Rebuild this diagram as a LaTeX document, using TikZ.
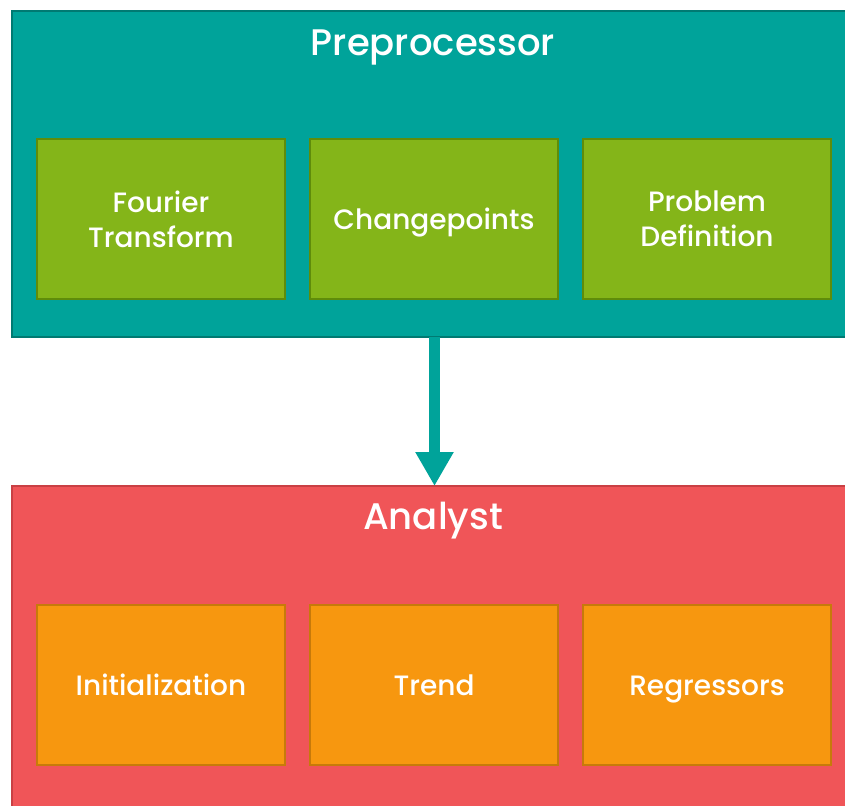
\documentclass[tikz,border=0pt]{standalone}
\usepackage{fontspec}
\setmainfont{Poppins}[UprightFont={* Medium}]
\usetikzlibrary{arrows.meta}
\definecolor{tealfill}{HTML}{00A39A}
\definecolor{tealline}{HTML}{007A72}
\definecolor{greenfill}{HTML}{84B519}
\definecolor{greenline}{HTML}{5F8C0A}
\definecolor{redfill}{HTML}{F05558}
\definecolor{redline}{HTML}{C94044}
\definecolor{orangefill}{HTML}{F7970F}
\definecolor{orangeline}{HTML}{C77A0A}
\tikzset{
  panel/.style={draw=#1line, fill=#1fill, line width=2pt, inner sep=0pt, anchor=north west},
  stage/.style={draw=#1line, fill=#1fill, line width=2pt, minimum width=248pt, minimum height=160pt,
    inner sep=0pt, anchor=north west, text=white, font=\fontsize{28}{35}\selectfont, align=center},
  oneline/.style={text height=22pt, text depth=2pt},
  paneltitle/.style={text=white, font=\fontsize{37}{44}\selectfont, text height=27pt, text depth=8pt},
}
\begin{document}
\begin{tikzpicture}[x=1pt,y=-1pt]
\useasboundingbox (0,0) rectangle (845,805);
% preprocessor panel
\node[panel=teal, minimum width=850pt, minimum height=326pt] (pre) at (11,10) {};
\node[paneltitle] (pretitle) at (433,46) {Preprocessor};
\node[stage=green] (fourier) at (36,138) {Fourier\\Transform};
\node[stage=green, oneline] (change) at (309,138) {Changepoints};
\node[stage=green] (problem) at (582,138) {Problem\\Definition};
% analyst panel
\node[panel=red, minimum width=850pt, minimum height=340pt] (ana) at (11,485) {};
\node[paneltitle] (anatitle) at (433,520) {Analyst};
\node[stage=orange, oneline] (init) at (36,604) {Initialization};
\node[stage=orange, oneline] (trend) at (309,604) {Trend};
\node[stage=orange, oneline] (regr) at (582,604) {Regressors};
% flow arrow
\coordinate (arrtop) at (434.5,337);
\coordinate (arrbot) at (434.5,486);
\draw[tealfill, line width=11pt, -{Triangle[width=36pt,length=34pt]}] (arrtop) -- (arrbot);
\end{tikzpicture}
\end{document}
